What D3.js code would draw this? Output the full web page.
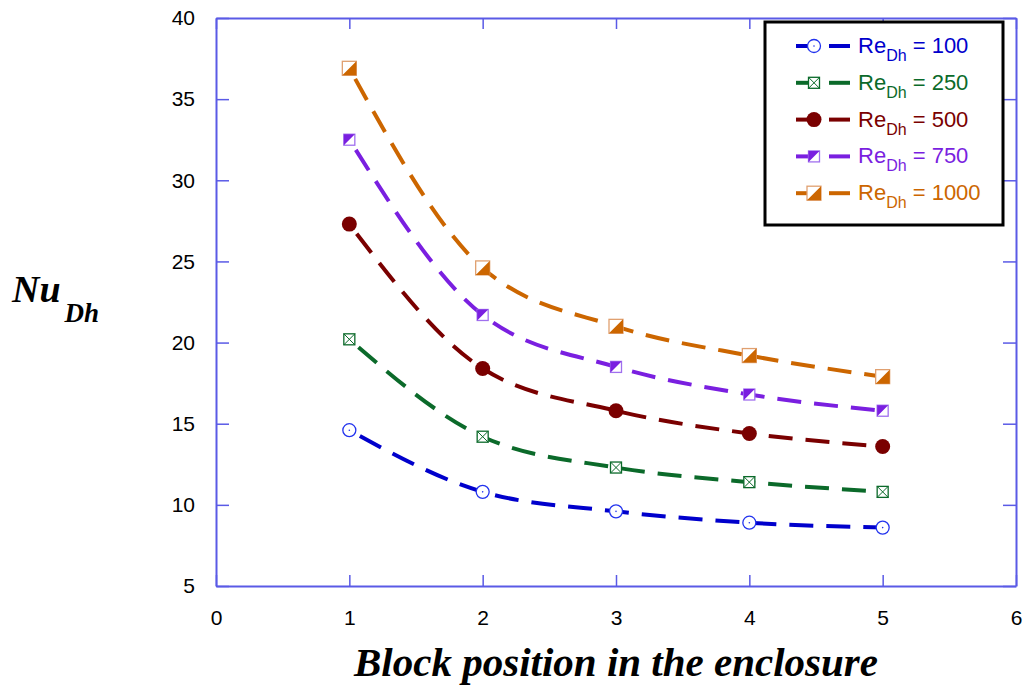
<!DOCTYPE html>
<html>
<head>
<meta charset="utf-8">
<script src="https://cdn.jsdelivr.net/npm/d3@7"></script>
<style>
  body { margin: 0; background: #fff; }
  svg { display: block; }
</style>
</head>
<body>
<svg width="1026" height="685"></svg>
<script>
// block positions
const positions = [1, 2, 3, 4, 5];
const xTicks = [0, 1, 2, 3, 4, 5, 6];
const yTicks = [5, 10, 15, 20, 25, 30, 35, 40];

// Nu_Dh per block for each Reynolds number
const re100  = [14.6, 10.8, 9.6, 8.9, 8.6];
const re250  = [20.2, 14.2, 12.3, 11.4, 10.8];
const re500  = [27.3, 18.4, 15.8, 14.4, 13.6];
const re750  = [32.5, 21.7, 18.5, 16.8, 15.8];
const re1000 = [36.9, 24.6, 21.0, 19.2, 17.9];

const reLabels = ['100', '250', '500', '750', '1000'];
const seriesValues = [re100, re250, re500, re750, re1000];
const colors = ['#0000cc', '#0b6a2a', '#7a0000', '#7a1fe0', '#cc6600'];
const markerKinds = ['circleOpen', 'squareX', 'circleFilled', 'squareTL', 'squareBR'];

function draw () {
  const svg = d3.select('svg');
  const m = { left: 216, top: 18, right: 1016, bottom: 586 };

  const x = d3.scaleLinear().domain([0, 6]).range([m.left, m.right]);
  const y = d3.scaleLinear().domain([5, 40]).range([m.bottom, m.top]);

  const axisColor = '#5a5ae6';

  // Axes
  const styleAxis = g => {
    g.attr('font-family', '"Liberation Sans", Arial, sans-serif').attr('font-size', 21);
    g.select('.domain').attr('stroke', axisColor).attr('stroke-width', 2);
    g.selectAll('.tick line').attr('stroke', axisColor).attr('stroke-width', 1.5);
    g.selectAll('.tick text').attr('fill', '#000');
  };

  svg.append('g')
    .attr('transform', `translate(${m.left},0)`)
    .call(d3.axisLeft(y).tickValues(yTicks).tickFormat(d3.format('d')).tickSizeInner(-13).tickSizeOuter(0).tickPadding(34))
    .call(styleAxis)
    .call(g => g.selectAll('.tick text').attr('text-anchor', 'end').attr('dx', 13));

  svg.append('g')
    .attr('transform', `translate(${m.right},0)`)
    .call(d3.axisRight(y).tickValues(yTicks).tickSizeInner(-13).tickSizeOuter(0))
    .call(styleAxis)
    .call(g => g.selectAll('.tick text').remove());

  svg.append('g')
    .attr('transform', `translate(0,${m.bottom})`)
    .call(d3.axisBottom(x).tickValues(xTicks).tickFormat(d3.format('d')).tickSizeInner(-11).tickSizeOuter(0).tickPadding(24))
    .call(styleAxis);

  svg.append('g')
    .attr('transform', `translate(0,${m.top})`)
    .call(d3.axisTop(x).tickValues(xTicks).tickSizeInner(-11).tickSizeOuter(0))
    .call(styleAxis)
    .call(g => g.selectAll('.tick text').remove());

  // Curves
  const line = d3.line()
    .x(d => x(d.p))
    .y(d => y(d.v))
    .curve(d3.curveMonotoneX);

  const series = seriesValues.map((vals, i) => ({
    color: colors[i],
    kind: markerKinds[i],
    label: reLabels[i],
    points: positions.map((p, j) => ({ p, v: vals[j] }))
  }));

  svg.append('g').selectAll('path')
    .data(series)
    .join('path')
      .attr('d', d => line(d.points))
      .attr('fill', 'none')
      .attr('stroke', d => d.color)
      .attr('stroke-width', 4)
      .attr('stroke-dasharray', '24,13')
      .attr('stroke-dashoffset', -12);

  function marker (g, kind, color) {
    if (kind === 'circleOpen') {
      g.append('circle').attr('r', 6.5).attr('fill', '#fff').attr('stroke', '#2233ee').attr('stroke-width', 1.3);
      g.append('circle').attr('r', 0.8).attr('fill', '#2233ee');
    } else if (kind === 'circleFilled') {
      g.append('circle').attr('r', 7.5).attr('fill', color);
    } else if (kind === 'squareX') {
      const s = 5.5;
      g.append('rect').attr('x', -s).attr('y', -s).attr('width', 2 * s).attr('height', 2 * s)
        .attr('fill', '#fff').attr('stroke', color).attr('stroke-width', 1.3);
      g.append('path').attr('d', `M${-s},${-s}L${s},${s}M${s},${-s}L${-s},${s}`)
        .attr('stroke', color).attr('stroke-width', 1);
    } else if (kind === 'squareTL') {
      const s = 5.5;
      g.append('rect').attr('x', -s).attr('y', -s).attr('width', 2 * s).attr('height', 2 * s)
        .attr('fill', '#fff').attr('stroke', '#a070ee').attr('stroke-width', 1.3);
      g.append('path').attr('d', `M${-s},${-s}L${s},${-s}L${-s},${s}Z`).attr('fill', color);
    } else if (kind === 'squareBR') {
      const s = 7;
      g.append('rect').attr('x', -s).attr('y', -s).attr('width', 2 * s).attr('height', 2 * s)
        .attr('fill', '#fff').attr('stroke', '#e0a070').attr('stroke-width', 1.3);
      g.append('path').attr('d', `M${s},${-s}L${s},${s}L${-s},${s}Z`).attr('fill', color);
    }
  }

  // Markers
  series.forEach(s => {
    s.points.forEach(d => {
      const g = svg.append('g').attr('transform', `translate(${x(d.p)},${y(d.v)})`);
      marker(g, s.kind, s.color);
    });
  });

  // Legend
  const legend = svg.append('g');
  legend.append('rect')
    .attr('x', 765).attr('y', 22).attr('width', 238).attr('height', 203)
    .attr('fill', '#fff').attr('stroke', '#000').attr('stroke-width', 3);

  series.forEach((s, i) => {
    const ly = 46 + i * 36.8;
    const row = legend.append('g').attr('transform', `translate(0,${ly})`);
    row.append('line').attr('x1', 796).attr('x2', 812).attr('stroke', s.color).attr('stroke-width', 4);
    row.append('line').attr('x1', 829).attr('x2', 850).attr('stroke', s.color).attr('stroke-width', 4);
    marker(row.append('g').attr('transform', 'translate(814,0)'), s.kind, s.color);
    const t = row.append('text')
      .attr('x', 858).attr('y', 7)
      .attr('fill', s.color)
      .attr('font-family', '"Liberation Sans", Arial, sans-serif')
      .attr('font-size', 22);
    t.append('tspan').text('Re');
    t.append('tspan').attr('font-size', 16).attr('dy', 8).text('Dh');
    t.append('tspan').attr('dy', -8).text(' = ' + s.label);
  });

  // Axis titles
  svg.append('text')
    .attr('x', 616).attr('y', 676)
    .attr('text-anchor', 'middle')
    .attr('font-family', '"Liberation Serif", "Times New Roman", serif')
    .attr('font-weight', 'bold').attr('font-style', 'italic')
    .attr('font-size', 41)
    .text('Block position in the enclosure');

  const yt = svg.append('text')
    .attr('x', 12).attr('y', 302)
    .attr('font-family', '"Liberation Serif", "Times New Roman", serif')
    .attr('font-weight', 'bold').attr('font-style', 'italic')
    .attr('font-size', 38);
  yt.append('tspan').text('Nu');
  yt.append('tspan').attr('font-size', 27).attr('dy', 20).attr('dx', 4).text('Dh');
}

draw();
</script>
</body>
</html>
